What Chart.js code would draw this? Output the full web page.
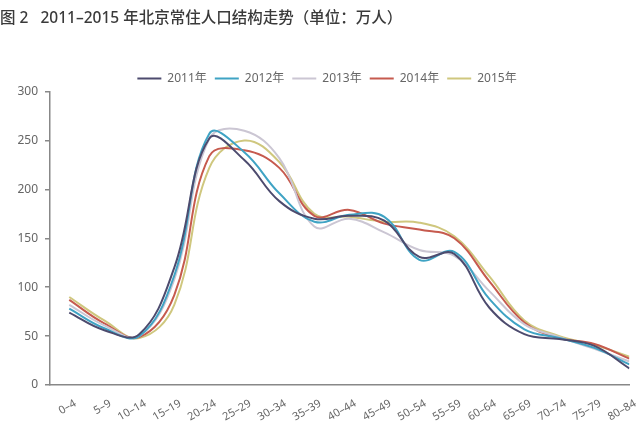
<!DOCTYPE html>
<html>
<head>
<meta charset="utf-8">
<script src="https://cdn.jsdelivr.net/npm/chart.js@4"></script>
<style>
  html, body { margin: 0; padding: 0; background: #fff; }
</style>
</head>
<body>
<canvas id="chart" width="640" height="439"></canvas>
<script>
// 年龄组（横轴）
const ageGroups = ["0–4", "5–9", "10–14", "15–19", "20–24", "25–29", "30–34", "35–39", "40–44",
  "45–49", "50–54", "55–59", "60–64", "65–69", "70–74", "75–79", "80–84"]
const yearLabels = ["2011年", "2012年", "2013年", "2014年", "2015年"]
const yTicks = [0, 50, 100, 150, 200, 250, 300]

// 各年常住人口（万人）
const pop2011 = [74, 56, 52, 120, 252, 230, 188, 170, 173, 168, 131, 134, 79, 52, 47, 40, 17]
const pop2012 = [78, 58, 50, 112, 257, 238, 196, 167, 174, 172, 128, 136, 88, 57, 48, 38, 21]
const pop2013 = [82, 61, 50, 108, 252, 260, 232, 162, 170, 156, 138, 132, 96, 62, 49, 37, 24]
const pop2014 = [87, 63, 49, 92, 234, 240, 222, 173, 179, 165, 159, 150, 106, 64, 48, 42, 27]
const pop2015 = [90, 66, 48, 82, 222, 250, 228, 175, 172, 167, 166, 152, 111, 66, 50, 41, 29]

const seriesData = [pop2011, pop2012, pop2013, pop2014, pop2015]
const colors = ["#4d4b6e", "#3fa3c4", "#cbc6d3", "#c65a4e", "#cfc77e"]

const fontFamily = '"Noto Sans", "Noto Sans CJK SC", sans-serif'

const datasets = seriesData.map((values, k) => ({
  label: yearLabels[k],
  data: values.map((v, i) => ({ x: i, y: v })),
  borderColor: colors[k],
  backgroundColor: colors[k],
  borderWidth: 2,
  pointRadius: 0,
  tension: 0.4,
  fill: false,
}))

// 图例整体向右下挪一点，和原图对齐
const shiftLegend = {
  id: "shiftLegend",
  afterLayout(chart) {
    const lg = chart.legend
    if (lg) {
      lg.left += 12
      lg.right += 12
      lg.top += 3
      lg.bottom += 3
    }
  },
}

new Chart(document.getElementById("chart"), {
  type: "line",
  data: { datasets },
  plugins: [shiftLegend],
  options: {
    responsive: false,
    animation: false,
    layout: { padding: { left: 0, right: 10, top: 0, bottom: 0 } },
    plugins: {
      title: {
        display: true,
        text: "图 2   2011–2015 年北京常住人口结构走势（单位：万人）",
        align: "start",
        color: "#3a3a3a",
        font: { family: fontFamily, size: 15.5, weight: "500" },
        padding: { top: 9, bottom: 34 },
      },
      legend: {
        display: true,
        labels: {
          usePointStyle: true,
          pointStyle: "line",
          pointStyleWidth: 24,
          color: "#666",
          font: { family: fontFamily, size: 12 },
          padding: 8,
        },
      },
      tooltip: { enabled: false },
    },
    scales: {
      x: {
        type: "linear",
        min: -0.55,
        max: 16,
        afterBuildTicks: (scale) => {
          scale.ticks = ageGroups.map((_, i) => ({ value: i }))
        },
        afterFit: (scale) => { scale.height = 54 },
        grid: { display: false },
        border: { display: true, color: "#888", width: 1.5 },
        ticks: {
          autoSkip: false,
          maxRotation: 30,
          minRotation: 30,
          labelOffset: 6,
          padding: 4,
          color: "#666",
          font: { family: fontFamily, size: 11 },
          callback: (v) => ageGroups[v] ?? "",
        },
      },
      y: {
        min: 0,
        max: 300,
        afterBuildTicks: (scale) => {
          scale.ticks = yTicks.map((v) => ({ value: v }))
        },
        afterFit: (scale) => { scale.width = 50 },
        grid: {
          display: true,
          drawOnChartArea: false,
          drawTicks: true,
          tickLength: 5,
          color: "#888",
          lineWidth: 1.5,
        },
        border: { display: true, color: "#888", width: 1.5 },
        ticks: {
          padding: 7,
          color: "#666",
          font: { family: fontFamily, size: 12 },
        },
      },
    },
  },
})
</script>
</body>
</html>
